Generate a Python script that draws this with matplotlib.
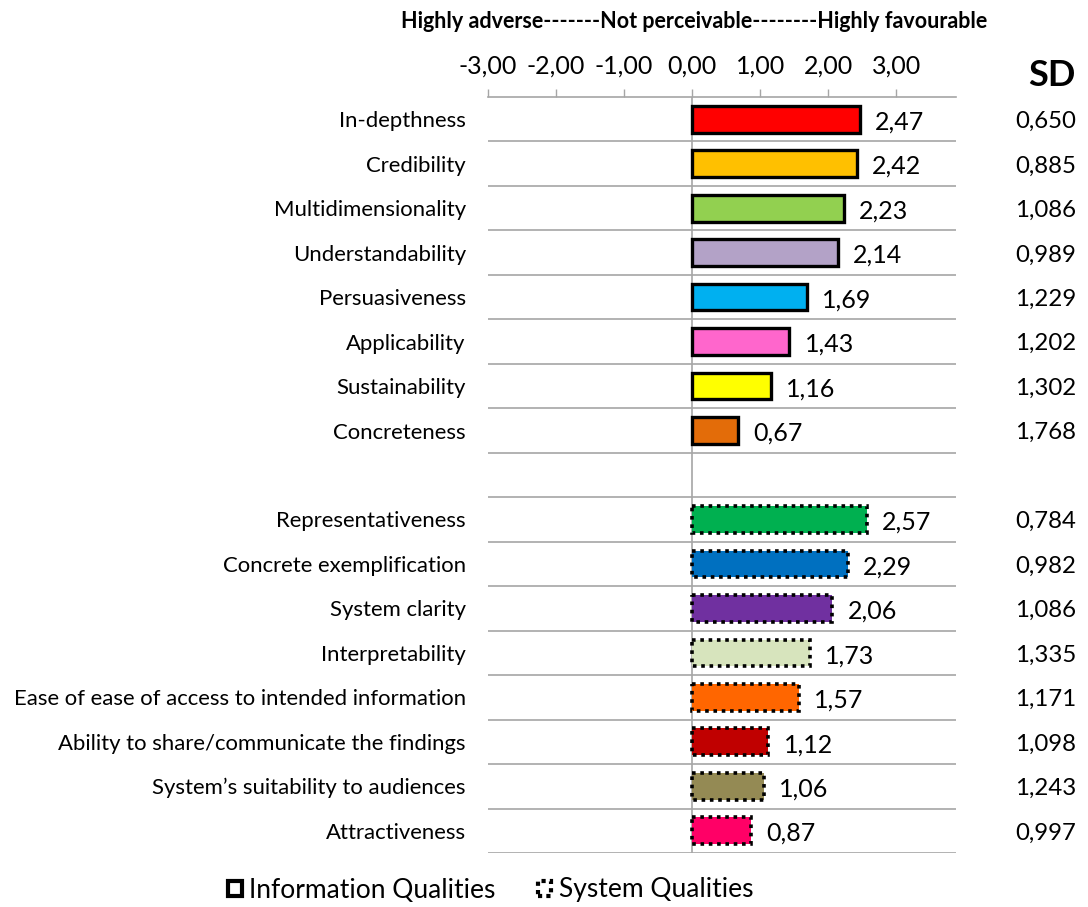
import matplotlib
matplotlib.use("Agg")
import matplotlib.pyplot as plt
import matplotlib.transforms as mtransforms
from matplotlib.patches import Patch

plt.rcParams['font.family'] = ['Lato', 'DejaVu Sans']

# Information qualities (solid outline)
info_labels = ["In-depthness", "Credibility", "Multidimensionality", "Understandability",
               "Persuasiveness", "Applicability", "Sustainability", "Concreteness"]
info_means = [2.47, 2.42, 2.23, 2.14, 1.69, 1.43, 1.16, 0.67]
info_sd = [0.650, 0.885, 1.086, 0.989, 1.229, 1.202, 1.302, 1.768]
info_colors = ["#FF0000", "#FFC000", "#92D050", "#B3A2C7", "#00B0F0", "#FF66CC",
               "#FFFF00", "#E36C09"]

# System qualities (dotted outline)
sys_labels = ["Representativeness", "Concrete exemplification", "System clarity",
              "Interpretability", "Ease of ease of access to intended information",
              "Ability to share/communicate the findings",
              "System\u2019s suitability to audiences", "Attractiveness"]
sys_means = [2.57, 2.29, 2.06, 1.73, 1.57, 1.12, 1.06, 0.87]
sys_sd = [0.784, 0.982, 1.086, 1.335, 1.171, 1.098, 1.243, 0.997]
sys_colors = ["#00B050", "#0070C0", "#7030A0", "#D7E4BD", "#FF6600", "#C00000",
              "#948A54", "#FF0066"]

x_ticks = [-3, -2, -1, 0, 1, 2, 3]
x_tick_labels = ["-3,00", "-2,00", "-1,00", "0,00", "1,00", "2,00", "3,00"]

fig = plt.figure(figsize=(10.88, 9.07), dpi=100)
ax = fig.add_axes([488 / 1088, 1 - 853 / 907, (956 - 488) / 1088, (853 - 97) / 907])

n_info = len(info_labels)
info_pos = list(range(n_info))
sys_pos = [n_info + 1 + i for i in range(len(sys_labels))]
n_rows = n_info + 1 + len(sys_labels)

def fmt(v, d):
    return f"{v:.{d}f}".replace(".", ",")

bar_h = 0.6
ax.barh(info_pos, info_means, height=bar_h, color=info_colors, edgecolor="black",
        linewidth=2.4, zorder=3)
ax.barh(sys_pos, sys_means, height=bar_h, color=sys_colors, edgecolor="black",
        linewidth=2.6, linestyle=(0, (1, 1.3)), zorder=3)

for p, v in zip(info_pos + sys_pos, info_means + sys_means):
    ax.annotate(fmt(v, 2), (v, p), xytext=(11, -2), textcoords="offset points",
                ha="left", va="center", fontsize=18, color="black")

ax.set_xlim(-3, 3.88)
ax.set_ylim(n_rows - 0.5, -0.5)

# category labels
ax.set_yticks(info_pos + sys_pos)
ax.set_yticklabels(info_labels + sys_labels, fontsize=15.9)
ax.tick_params(axis="y", length=0, pad=16)

# top value axis
ax.xaxis.tick_top()
ax.set_xticks(x_ticks)
ax.set_xticklabels(x_tick_labels, fontsize=18)
ax.tick_params(axis="x", direction="out", length=6, width=1, color="#A6A6A6", pad=8)

# horizontal separators between rows
for k in range(1, n_rows + 1):
    ax.axhline(k - 0.5, color="#A6A6A6", linewidth=1.2, zorder=1)
ax.axvline(0, color="#A6A6A6", linewidth=1.2, zorder=2)

for side in ["left", "right", "bottom"]:
    ax.spines[side].set_visible(False)
ax.spines["top"].set_color("#A6A6A6")
ax.spines["top"].set_linewidth(1.2)

# SD column
trans = mtransforms.blended_transform_factory(fig.transFigure, ax.transData)
for p, s in zip(info_pos + sys_pos, info_sd + sys_sd):
    ax.text(1076 / 1088, p + 0.05, fmt(s, 3), transform=trans, ha="right", va="center",
            fontsize=17.3, color="black")
fig.text(1076 / 1088, 1 - 76 / 907, "SD", ha="right", va="center", fontsize=26,
         fontweight="bold")

fig.text(694 / 1088, 1 - 22 / 907,
         "Highly adverse-------Not perceivable--------Highly favourable",
         ha="center", va="center", fontsize=15.5, fontweight="bold")

handles = [Patch(facecolor="white", edgecolor="black", linewidth=3, label="Information Qualities"),
           Patch(facecolor="white", edgecolor="black", linewidth=3, linestyle=(0, (1, 1)),
                 label="System Qualities")]
fig.legend(handles=handles, loc="center", bbox_to_anchor=(491 / 1088, 1 - 890 / 907),
           ncol=2, frameon=False, fontsize=19, handlelength=0.5, handleheight=0.5,
           handletextpad=0.3, columnspacing=1.6)

fig.savefig("out.png", dpi=100)
